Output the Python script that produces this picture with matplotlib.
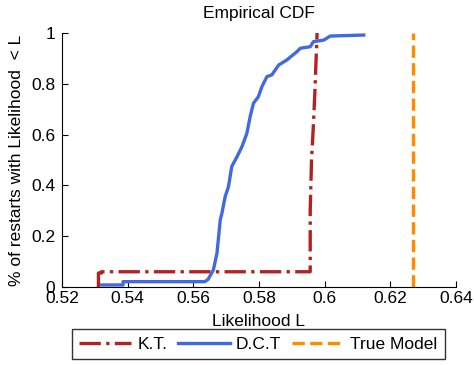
import matplotlib
matplotlib.use("Agg")
import matplotlib.pyplot as plt

plt.rcParams['font.family'] = ['Liberation Sans', 'DejaVu Sans']

# K.T. empirical CDF (traced)
kt_x = [0.5311, 0.5311, 0.5320, 0.5320, 0.5956, 0.5956, 0.5960, 0.5965, 0.5970, 0.5974, 0.5977]
kt_y = [0.0, 0.055, 0.055, 0.06, 0.06, 0.30, 0.50, 0.62, 0.76, 0.90, 1.0]

# D.C.T empirical CDF (traced)
dct_x = [0.5321, 0.5386, 0.5386, 0.5635, 0.5645, 0.5661, 0.5672, 0.5682, 0.5687, 0.5697,
         0.5707, 0.5717, 0.5733, 0.5748, 0.5763, 0.5773, 0.5783, 0.5798, 0.5809, 0.5824,
         0.5839, 0.5860, 0.5885, 0.5915, 0.5926, 0.5956, 0.5966, 0.5997, 0.6017, 0.6119]
dct_y = [0.008, 0.008, 0.021, 0.021, 0.03, 0.067, 0.133, 0.264, 0.29, 0.356,
         0.395, 0.474, 0.513, 0.552, 0.605, 0.670, 0.723, 0.749, 0.789, 0.828,
         0.835, 0.874, 0.894, 0.926, 0.94, 0.946, 0.966, 0.972, 0.988, 0.992]

true_x = [0.6268, 0.6268]
true_y = [0.0, 1.0]

fig = plt.figure(figsize=(4.74, 3.65), dpi=100)
ax = fig.add_axes([0.1308, 0.2137, 0.8312, 0.6959])

ax.plot(kt_x, kt_y, color='#b22222', linestyle='-.', linewidth=2.4, label='K.T.')
ax.plot(dct_x, dct_y, color='#4169e1', linestyle='-', linewidth=2.4, label='D.C.T')
ax.plot(true_x, true_y, color='#ff8c00', linestyle='--', linewidth=2.4, label='True Model')

ax.set_xlim(0.52, 0.64)
ax.set_ylim(0, 1)
ax.set_xticks([0.52, 0.54, 0.56, 0.58, 0.6, 0.62, 0.64])
ax.set_xticklabels(['0.52', '0.54', '0.56', '0.58', '0.6', '0.62', '0.64'])
ax.set_yticks([0, 0.2, 0.4, 0.6, 0.8, 1])
ax.set_yticklabels(['0', '0.2', '0.4', '0.6', '0.8', '1'])
ax.spines['top'].set_visible(False)
ax.spines['right'].set_visible(False)
ax.tick_params(direction='in', labelsize=12.5, length=4, width=0.8)
ax.tick_params(axis='x', pad=3)
ax.tick_params(axis='y', pad=5)

ax.set_title('Empirical CDF', fontsize=12.5, pad=11)
ax.set_xlabel('Likelihood L', fontsize=12.5, labelpad=6)
ax.set_ylabel('% of restarts with Likelihood  < L', fontsize=12.5, labelpad=5)

leg = fig.legend(loc='center', bbox_to_anchor=(0.545, 0.0575), ncol=3, fontsize=12.5,
                 frameon=True, fancybox=False, edgecolor='black', handlelength=3.0,
                 columnspacing=0.6, handletextpad=0.35, borderpad=0.45, borderaxespad=0)
leg.get_frame().set_linewidth(1.0)

fig.savefig('out.png', dpi=100)
